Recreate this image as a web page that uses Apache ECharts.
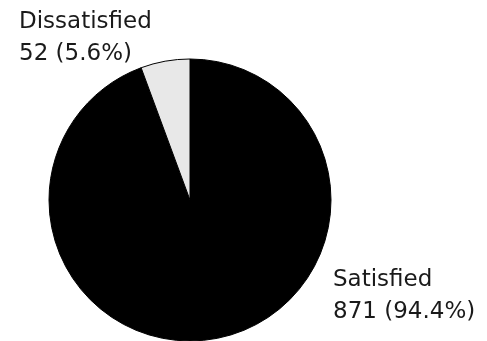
<!DOCTYPE html>
<html>
<head>
<meta charset="utf-8">
<script src="https://cdn.jsdelivr.net/npm/echarts@6/dist/echarts.min.js"></script>
<style>
  html, body { margin: 0; padding: 0; background: #fff; }
  #chart { width: 487px; height: 341px; }
</style>
</head>
<body>
<div id="chart"></div>
<script>
var categories = ['Satisfied', 'Dissatisfied'];
var counts = [871, 52];
var sliceColors = ['#000000', '#e8e8e8'];

var total = counts.reduce(function(a, b) { return a + b; }, 0);

var chart = echarts.init(document.getElementById('chart'));

// fixed label spots, same as the reference
var labelSpots = [
    { x: 333, y: 264 },
    { x: 19, y: 6 }
];

var option = {
    animation: false,
    series: [{
        type: 'pie',
        center: [190, 200],
        radius: 141,
        startAngle: 90,
        data: categories.map(function(name, i) {
            return { name: name, value: counts[i], itemStyle: { color: sliceColors[i] } };
        }),
        itemStyle: { borderColor: '#000', borderWidth: 1 },
        label: {
            show: true,
            position: 'outside',
            fontFamily: 'DejaVu Sans',
            fontSize: 23,
            lineHeight: 32,
            color: '#1a1a1a',
            align: 'left',
            verticalAlign: 'top',
            overflow: 'none',
            width: 200,
            formatter: function(p) {
                return p.name + '\n' + p.value + ' (' + (p.value / total * 100).toFixed(1) + '%)';
            }
        },
        labelLine: { show: false },
        labelLayout: function(p) {
            var s = labelSpots[p.dataIndex];
            return { x: s.x, y: s.y, align: 'left', verticalAlign: 'top' };
        },
        emphasis: { disabled: true }
    }]
};

chart.setOption(option);
</script>
</body>
</html>
